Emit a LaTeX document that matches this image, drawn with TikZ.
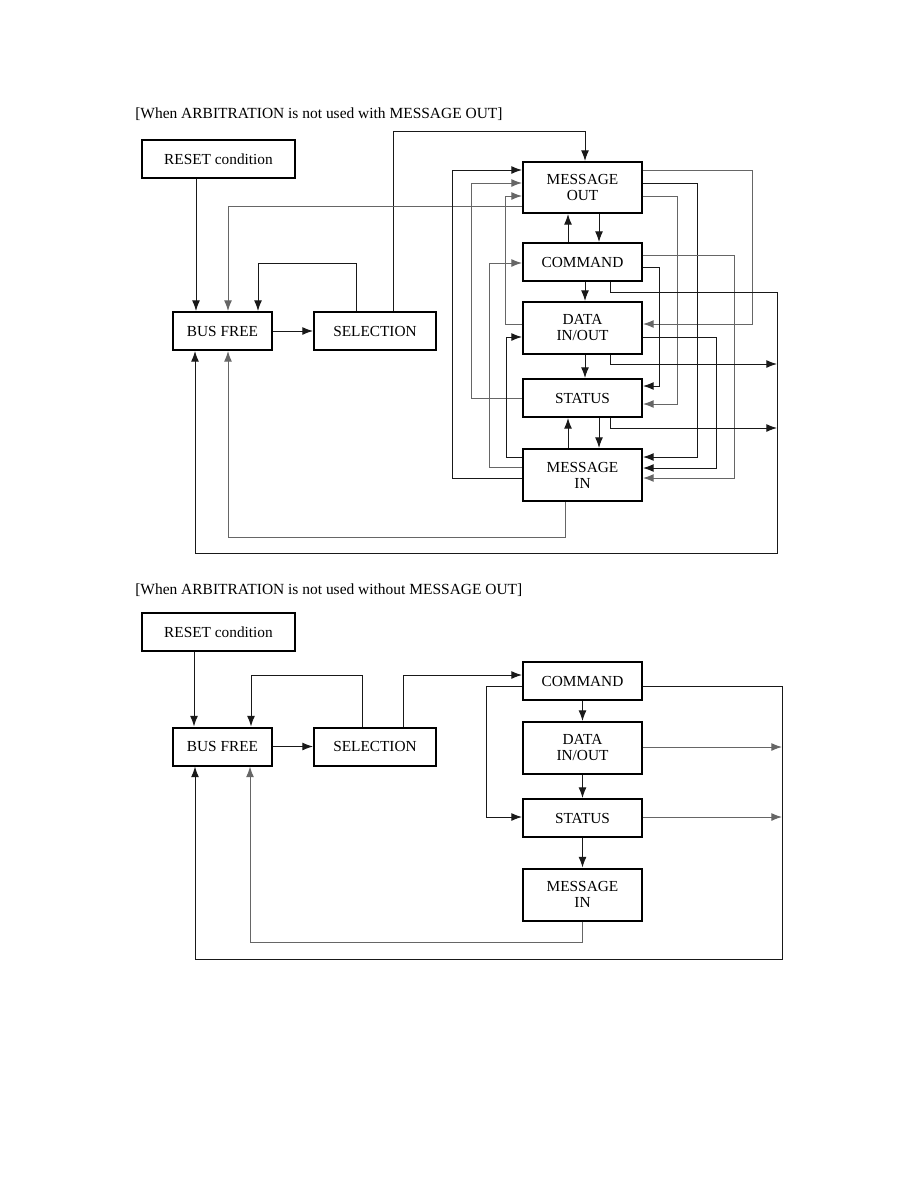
\documentclass[tikz,border=0pt]{standalone}
\usepackage{fontspec}
\setmainfont{Liberation Serif}
\usetikzlibrary{arrows.meta}
\tikzset{
  box/.style={draw, line width=1.5pt, fill=white, inner sep=0pt, align=center,
              font=\fontsize{11.5}{12}\selectfont},
  wA/.style={minimum width=114.75pt},
  wB/.style={minimum width=74.25pt},
  wC/.style={minimum width=91.5pt},
  wD/.style={minimum width=89.25pt},
  hS/.style={minimum height=28.5pt},
  hT/.style={minimum height=39pt},
  conn/.style={draw=black!90, line width=0.75pt},
  gconn/.style={draw=black!60, line width=0.75pt},
  tip/.style={-{Latex[length=8pt,width=6pt]}},
  title/.style={anchor=west, inner sep=0pt, font=\fontsize{11.6}{13}\selectfont}
}
\begin{document}
\begin{tikzpicture}[x=0.75pt,y=-0.75pt]
\useasboundingbox (0,0) rectangle (918,1188);

% ================= TOP DIAGRAM =================
\node[title] (t1) at (135,114) {[When ARBITRATION is not used with MESSAGE OUT]};

\node[box,wA,hS] (reset1) at (218.5,159) {RESET condition};
\node[box,wB,hS] (bf1) at (222.5,331) {BUS FREE};
\node[box,wC,hS] (sel1) at (375,331) {SELECTION};
\node[box,wD,minimum height=38.25pt] (mo1) at (582.5,187.5) {MESSAGE\\OUT};
\node[box,wD,hS] (cmd1) at (582.5,262) {COMMAND};
\node[box,wD,hT] (dat1) at (582.5,328) {DATA\\IN/OUT};
\node[box,wD,hS] (st1) at (582.5,398) {STATUS};
\node[box,wD,hT] (mi1) at (582.5,475) {MESSAGE\\IN};

\coordinate (tr1) at (777,364);
\coordinate (tr2) at (777,428);

% left part
\draw[conn,tip] (reset1.south -| 196,0) -- (bf1.north -| 196,0);
\draw[conn,tip] (bf1.east) -- (sel1.west);
\draw[conn,tip] (sel1.north -| 356,0) |- (258,263) -- (bf1.north -| 258,0);
\draw[conn,tip] (sel1.north -| 393,0) |- (585,131) -- (mo1.north -| 585,0);
\draw[gconn,tip] (mo1.west |- 0,206) -| (bf1.north -| 228,0);

% vertical chain
\draw[conn,tip] (mo1.south -| 599,0) -- (cmd1.north -| 599,0);
\draw[conn,tip] (cmd1.north -| 568,0) -- (mo1.south -| 568,0);
\draw[conn,tip] (cmd1.south -| 585,0) -- (dat1.north -| 585,0);
\draw[conn,tip] (dat1.south -| 585,0) -- (st1.north -| 585,0);
\draw[conn,tip] (st1.south -| 599,0) -- (mi1.north -| 599,0);
\draw[conn,tip] (mi1.north -| 568,0) -- (st1.south -| 568,0);

% right side loops
\draw[gconn,tip] (mo1.east |- 0,170) -| (752,324) -- (dat1.east |- 0,324);
\draw[conn,tip] (mo1.east |- 0,183) -| (697,457) -- (mi1.east |- 0,457);
\draw[gconn,tip] (mo1.east |- 0,196) -| (677,404) -- (st1.east |- 0,404);
\draw[gconn,tip] (cmd1.east |- 0,255) -| (734,478) -- (mi1.east |- 0,478);
\draw[conn,tip] (cmd1.east |- 0,267) -| (659,386) -- (st1.east |- 0,386);
\draw[conn,tip] (dat1.east |- 0,337) -| (716,468) -- (mi1.east |- 0,468);

% to BUS FREE trunk
\draw[conn,tip] (cmd1.south -| 610,0) |- (777,292) -- (777,553) -| (bf1.south -| 195,0);
\draw[conn,tip] (dat1.south -| 610,0) |- (tr1);
\draw[conn,tip] (st1.south -| 610,0) |- (tr2);
\draw[gconn,tip] (mi1.south -| 565,0) |- (228,537) -- (bf1.south -| 228,0);

% left side loops
\draw[gconn,tip] (dat1.west |- 0,324) -| (505,196) -- (mo1.west |- 0,196);
\draw[gconn,tip] (st1.west |- 0,398) -| (471,183) -- (mo1.west |- 0,183);
\draw[conn,tip] (mi1.west |- 0,478) -| (452,170) -- (mo1.west |- 0,170);
\draw[gconn,tip] (mi1.west |- 0,467) -| (489,263) -- (cmd1.west |- 0,263);
\draw[conn,tip] (mi1.west |- 0,457) -| (506,337) -- (dat1.west |- 0,337);

% ================= BOTTOM DIAGRAM =================
\node[title] (t2) at (135,590) {[When ARBITRATION is not used without MESSAGE OUT]};

\node[box,wA,hS] (reset2) at (218.5,632) {RESET condition};
\node[box,wB,hS] (bf2) at (222.5,746.5) {BUS FREE};
\node[box,wC,hS] (sel2) at (375,746.5) {SELECTION};
\node[box,wD,hS] (cmd2) at (582.5,681) {COMMAND};
\node[box,wD,hT] (dat2) at (582.5,748) {DATA\\IN/OUT};
\node[box,wD,hS] (st2) at (582.5,818) {STATUS};
\node[box,wD,hT] (mi2) at (582.5,894.5) {MESSAGE\\IN};

\coordinate (tr3) at (782,747);
\coordinate (tr4) at (782,817);

\draw[conn,tip] (reset2.south -| 194,0) -- (bf2.north -| 194,0);
\draw[conn,tip] (bf2.east) -- (sel2.west);
\draw[conn,tip] (sel2.north -| 362,0) |- (251,675) -- (bf2.north -| 251,0);
\draw[conn,tip] (sel2.north -| 403,0) |- (cmd2.west |- 0,675);

\draw[conn,tip] (cmd2.south) -- (dat2.north);
\draw[conn,tip] (dat2.south) -- (st2.north);
\draw[conn,tip] (st2.south) -- (mi2.north);

\draw[conn,tip] (cmd2.west |- 0,686) -| (486,817) -- (st2.west |- 0,817);
\draw[conn,tip] (cmd2.east |- 0,686) -| (782,959) -| (bf2.south -| 195,0);
\draw[gconn,tip] (dat2.east |- 0,747) -- (tr3);
\draw[gconn,tip] (st2.east |- 0,817) -- (tr4);
\draw[gconn,tip] (mi2.south) |- (250,942) -- (bf2.south -| 250,0);

\end{tikzpicture}
\end{document}
